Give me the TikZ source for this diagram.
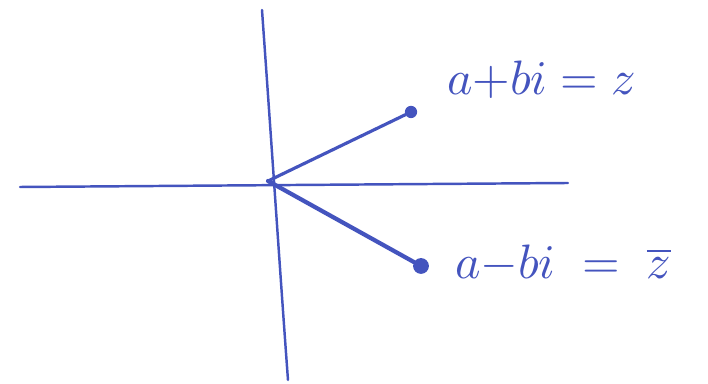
\documentclass[tikz,border=0pt]{standalone}
\usepackage{xcolor}
\definecolor{ink}{RGB}{68,84,190}
\begin{document}
\begin{tikzpicture}[x=0.02cm,y=-0.02cm,line cap=round]
\useasboundingbox (0,0) rectangle (708,384);
\draw [ink,line width=1.4pt] (262,10) .. controls (272,150) and (282,300) .. (288,380);
\draw [ink,line width=1.4pt] (20,187) -- (568,183);
\coordinate (o) at (268,181);
\node [circle,fill=ink,inner sep=0pt,minimum size=7pt] (z) at (411,112) {};
\node [circle,fill=ink,inner sep=0pt,minimum size=9pt] (zb) at (421,266) {};
\draw [ink,line width=1.8pt] (o) -- (z);
\draw [ink,line width=2.4pt] (o) -- (zb);
\node [ink,anchor=west,scale=2.75] (lz) at (430,80) {$a{+}bi = z$};
\node [ink,anchor=west,scale=2.75] (lzb) at (438,264) {$a{-}bi \;=\; \overline{z}$};
\end{tikzpicture}
\end{document}
